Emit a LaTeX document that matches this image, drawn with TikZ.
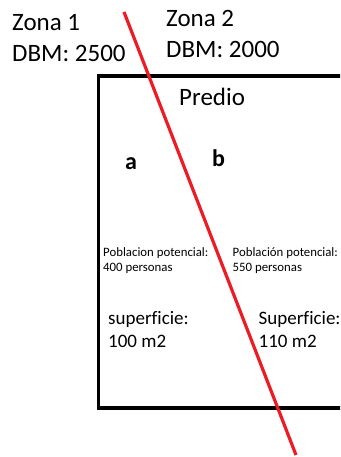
\documentclass[tikz,border=0pt]{standalone}
\usepackage{fontspec}
\setmainfont[Ligatures={NoCommon}]{Carlito}
\definecolor{linered}{HTML}{ED1C24}
\begin{document}
\begin{tikzpicture}[x=1pt,y=-1pt,
  big/.style={inner sep=0pt,anchor=base west,align=left,font=\fontsize{25}{31.5}\selectfont},
  lbl/.style={inner sep=0pt,anchor=base west,font=\bfseries\fontsize{24}{28}\selectfont},
  small/.style={inner sep=0pt,anchor=base west,align=left,font=\fontsize{12.8}{14.5}\selectfont},
  mid/.style={inner sep=0pt,anchor=base west,align=left,font=\fontsize{19}{23}\selectfont},
  frame/.style={draw=black,line width=3.5pt},
  divide/.style={draw=linered,line width=3.2pt}]
\clip (0,0) rectangle (340,457);
\fill[white] (0,0) rectangle (340,457);
\draw[frame] (98.5,76) rectangle (350,408);
\coordinate (ltop) at (124,12);
\coordinate (lbot) at (296,455);
\draw[divide] (ltop) -- (lbot);
\node[big] (z1) at (12,62) {Zona 1\\DBM: 2500};
\node[big] (z2) at (166,58) {Zona 2\\DBM: 2000};
\node[big] (pred) at (179,106) {Predio};
\node[lbl] (a) at (125,169) {a};
\node[lbl] (b) at (212,167) {b};
\node[small] (pa) at (103,271) {Poblacion potencial:\\400 personas};
\node[small] (pb) at (232.5,271) {Población potencial:\\550 personas};
\node[mid] (sa) at (108,347) {superficie:\\100 m2};
\node[mid] (sb) at (258.5,347) {Superficie:\\110 m2};
\end{tikzpicture}
\end{document}
